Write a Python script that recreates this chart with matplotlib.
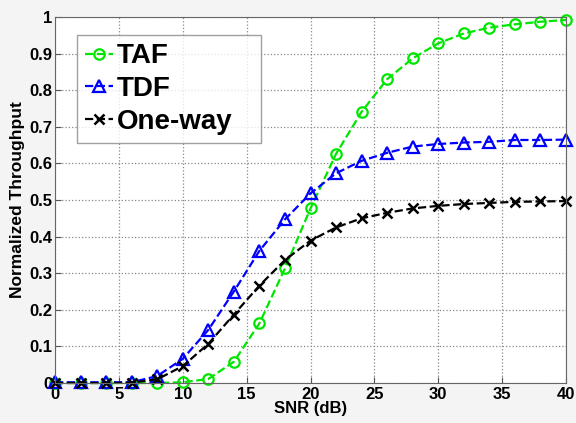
import numpy as np
import matplotlib.pyplot as plt

snr = np.arange(0, 41, 2)
taf = [0, 0, 0, 0, 0.0, 0.002, 0.011, 0.058, 0.163, 0.313, 0.477, 0.626,
       0.741, 0.830, 0.887, 0.928, 0.955, 0.971, 0.980, 0.987, 0.992]
tdf = [0.002, 0.002, 0.002, 0.002, 0.019, 0.066, 0.145, 0.250, 0.361, 0.447, 0.518, 0.573,
       0.607, 0.629, 0.646, 0.653, 0.657, 0.659, 0.664, 0.664, 0.665]
oneway = [0, 0, 0, 0.001, 0.010, 0.046, 0.107, 0.187, 0.266, 0.336, 0.389, 0.425,
          0.450, 0.465, 0.477, 0.484, 0.489, 0.492, 0.495, 0.496, 0.497]

plt.rcParams['font.family'] = ['Liberation Sans', 'DejaVu Sans']

fig = plt.figure(figsize=(5.76, 4.23), dpi=100, facecolor='#f4f4f4')
ax = fig.add_axes([55 / 576, 40 / 423, 511 / 576, 366 / 423])
ax.set_facecolor('white')

ax.plot(snr, taf, '--o', color='#00e600', lw=1.6, ms=7.5, mfc='none', mew=1.6,
        label='TAF', clip_on=False)
ax.plot(snr, tdf, '--^', color='#0000ff', lw=1.6, ms=8.5, mfc='none', mew=1.6,
        label='TDF', clip_on=False)
ax.plot(snr, oneway, '--x', color='black', lw=1.6, ms=6.5, mew=1.8,
        label='One-way', clip_on=False)

ax.set_xlim(0, 40)
ax.set_ylim(0, 1)
ax.set_xticks(np.arange(0, 41, 5))
ax.set_yticks(np.arange(0, 1.01, 0.1))
ax.set_yticklabels(['0', '0.1', '0.2', '0.3', '0.4', '0.5', '0.6', '0.7', '0.8', '0.9', '1'])
ax.tick_params(direction='in', labelsize=12, length=4, color='#555555', pad=2)
ax.tick_params(axis='x', pad=3)
for lbl in ax.get_xticklabels() + ax.get_yticklabels():
    lbl.set_fontweight('bold')
for s in ax.spines.values():
    s.set_color('#666666')
ax.grid(True, linestyle=':', color='#888888', lw=0.9)

ax.set_xlabel('SNR (dB)', fontsize=12, fontweight='bold', labelpad=-1)
ax.set_ylabel('Normalized Throughput', fontsize=12.5, fontweight='bold', labelpad=3)

leg = ax.legend(loc='upper left', bbox_to_anchor=(0.043, 0.5, 0.36, 0.451), mode='expand',
                borderaxespad=0, fancybox=False, edgecolor='#888888', handlelength=1.0,
                prop={'size': 20, 'weight': 'bold'}, handletextpad=0.12,
                labelspacing=0.25, borderpad=0.3)
leg.get_frame().set_linewidth(1)

fig.savefig('out.png', dpi=100, facecolor=fig.get_facecolor())
